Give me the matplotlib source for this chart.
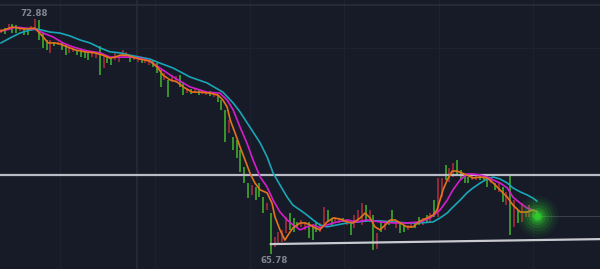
import numpy as np
import matplotlib
matplotlib.use("Agg")
import matplotlib.pyplot as plt

# ---- candle data (price) ----
highs = [72.59, 72.62, 72.74, 72.74, 72.71, 72.65, 72.62, 72.59, 72.68, 72.88,
         72.86, 72.47, 72.26, 72.26, 72.20, 72.20, 72.20, 72.11, 72.02, 72.02,
         71.96, 71.99, 71.93, 71.87, 71.93, 71.87, 72.08, 71.80, 71.77, 71.71,
         71.87, 71.77, 71.96, 71.90, 71.80, 71.74, 71.71, 71.71, 71.65, 71.65,
         71.65, 71.56, 71.35, 71.26, 71.05, 71.20, 71.17, 71.20, 70.99, 70.81,
         70.78, 70.78, 70.75, 70.75, 70.71, 70.71, 70.68, 70.59, 70.44, 70.14,
         69.84, 69.32, 69.23, 68.93, 68.41, 67.93, 67.87, 67.81, 67.93, 67.50,
         67.32, 67.02, 66.29, 66.45, 66.51, 66.90, 67.02, 66.87, 66.75, 66.81,
         66.75, 66.75, 66.66, 66.75, 66.72, 67.20, 67.11, 66.87, 66.90, 66.87,
         66.87, 66.81, 66.75, 66.96, 67.11, 67.32, 67.26, 67.11, 66.96, 66.41,
         66.75, 66.75, 66.81, 67.11, 66.81, 66.75, 66.66, 66.66, 66.75, 66.75,
         66.90, 66.87, 66.96, 67.02, 67.41, 68.08, 68.08, 68.47, 68.38, 68.53,
         68.63, 68.32, 68.14, 68.11, 68.23, 68.17, 68.17, 68.17, 68.11, 68.08,
         67.93, 67.93, 67.81, 67.66, 68.17, 67.41, 67.11, 67.32, 67.08, 67.26,
         67.05, 67.11]
lows = [72.47, 72.44, 72.56, 72.47, 72.47, 72.53, 72.41, 72.41, 72.53, 72.56,
        72.26, 72.02, 71.96, 71.87, 72.08, 72.11, 71.96, 71.80, 71.87, 71.90,
        71.80, 71.74, 71.71, 71.65, 71.74, 71.71, 71.20, 71.41, 71.56, 71.50,
        71.65, 71.59, 71.74, 71.74, 71.59, 71.65, 71.59, 71.56, 71.56, 71.50,
        71.44, 71.26, 70.84, 71.05, 70.53, 70.99, 70.99, 70.84, 70.59, 70.65,
        70.62, 70.65, 70.59, 70.62, 70.59, 70.56, 70.53, 70.38, 70.14, 69.17,
        69.44, 68.93, 68.69, 68.26, 67.93, 67.47, 67.57, 67.41, 67.50, 67.02,
        67.11, 65.78, 65.99, 66.08, 66.14, 66.41, 66.51, 66.45, 66.57, 66.60,
        66.51, 66.26, 66.20, 66.45, 66.45, 66.60, 66.75, 66.66, 66.75, 66.72,
        66.75, 66.66, 66.35, 66.57, 66.75, 66.66, 66.75, 66.81, 65.90, 65.93,
        66.45, 66.51, 66.66, 66.72, 66.57, 66.41, 66.45, 66.51, 66.57, 66.57,
        66.66, 66.66, 66.75, 66.75, 66.90, 66.90, 67.50, 68.02, 67.96, 68.11,
        68.17, 68.02, 67.93, 67.93, 68.02, 68.02, 68.02, 68.02, 67.81, 67.93,
        67.72, 67.66, 67.35, 67.26, 66.35, 66.60, 66.72, 66.75, 66.90, 66.90,
        66.90, 66.90]
# 1 = bullish (green), 0 = bearish (red)
up = [0, 1, 0, 1, 1, 0, 1, 1, 0, 0,
      1, 1, 1, 0, 1, 0, 1, 1, 0, 0,
      1, 1, 1, 1, 0, 0, 1, 0, 1, 1,
      0, 0, 0, 0, 1, 0, 0, 1, 0, 0,
      1, 1, 1, 0, 1, 0, 0, 1, 1, 0,
      1, 0, 1, 0, 0, 1, 0, 1, 1, 1,
      0, 1, 1, 1, 1, 1, 0, 1, 1, 1,
      0, 1, 0, 0, 0, 0, 1, 1, 1, 0,
      0, 1, 1, 1, 0, 0, 1, 1, 0, 0,
      1, 0, 1, 0, 0, 0, 1, 0, 1, 0,
      1, 0, 1, 1, 0, 1, 1, 0, 0, 1,
      1, 0, 1, 0, 1, 0, 0, 1, 0, 0,
      1, 1, 1, 1, 0, 0, 1, 1, 1, 0,
      1, 0, 1, 0, 1, 0, 1, 0, 0, 0,
      0, 0]

# ---- moving averages (bar index, price) ----
ma_fast_x = [0, 2.9, 6.3, 8.9, 11.1, 12.4, 14.2, 15.5, 16.8, 19.5, 22.1, 24.7, 26.8, 28.7, 30.0,
             31.3, 33.2, 34.7, 36.6, 39.2, 41.1, 42.6, 44.5, 46.3, 47.9, 50.3, 52.4, 55.0, 57.1,
             58.4, 59.5, 60.3, 61.6, 62.9, 64.2, 65.5, 66.8, 68.2, 70.0, 71.3, 72.1, 73.4, 74.7,
             75.5, 76.8, 78.7, 80.0, 81.3, 82.6, 83.9, 85.8, 87.4, 89.2, 91.1, 92.6, 94.5, 95.8,
             97.1, 98.4, 99.7, 101.1, 102.4, 103.7, 105.0, 106.8, 108.4, 110.3, 112.1, 113.7,
             114.7, 115.5, 116.3, 117.4, 118.7, 120.0, 121.3, 122.6, 124.2, 126.1, 127.9, 129.5,
             131.3, 133.2, 134.7, 136.6, 138.4, 140.0, 141.0]
ma_fast = [72.53, 72.65, 72.59, 72.62, 72.35, 72.17, 72.17, 72.14, 72.08, 71.96, 71.90, 71.87, 71.80,
           71.71, 71.74, 71.80, 71.80, 71.74, 71.68, 71.62, 71.44, 71.20, 71.05, 70.99, 70.84, 70.68,
           70.68, 70.65, 70.59, 70.44, 70.23, 69.84, 69.44, 69.02, 68.63, 68.23, 67.93, 67.72, 67.63,
           67.32, 66.90, 66.51, 66.20, 66.35, 66.57, 66.72, 66.72, 66.66, 66.57, 66.51, 66.75, 66.87,
           66.84, 66.75, 66.72, 66.87, 67.02, 66.87, 66.60, 66.51, 66.66, 66.81, 66.81, 66.72, 66.60,
           66.60, 66.78, 66.87, 66.96, 67.11, 67.41, 67.72, 68.02, 68.29, 68.29, 68.23, 68.17, 68.08,
           68.11, 68.08, 67.93, 67.72, 67.50, 67.26, 67.05, 67.05, 67.11, 67.05]

ma_mid_x = [0, 2.4, 3.7, 6.3, 8.9, 11.1, 13.7, 16.3, 18.9, 22.6, 26.1, 28.7, 31.3, 33.9, 36.6, 39.2,
            41.8, 45.3, 49.7, 54.2, 57.6, 59.5, 61.1, 62.9, 64.7, 66.3, 68.2, 70.0, 71.6, 73.4, 75.3,
            76.8, 78.7, 80.5, 82.1, 83.9, 85.8, 88.4, 91.1, 93.7, 96.3, 99.7, 103.2, 106.8, 110.3,
            112.9, 115.5, 117.4, 118.9, 120.8, 122.6, 124.2, 126.1, 127.9, 129.5, 131.3, 133.2,
            134.7, 136.6, 138.4, 140.0, 141.0]
ma_mid = [72.53, 72.59, 72.65, 72.62, 72.59, 72.47, 72.35, 72.17, 72.05, 71.93, 71.87, 71.74, 71.74,
          71.74, 71.71, 71.62, 71.41, 71.14, 70.84, 70.68, 70.65, 70.44, 70.14, 69.62, 69.14, 68.63,
          68.11, 67.81, 67.41, 67.05, 66.81, 66.66, 66.51, 66.60, 66.66, 66.57, 66.66, 66.75, 66.81,
          66.75, 66.81, 66.75, 66.72, 66.72, 66.75, 66.87, 67.11, 67.41, 67.72, 68.02, 68.20, 68.20,
          68.17, 68.11, 68.02, 67.93, 67.78, 67.50, 67.32, 67.17, 67.11, 67.05]

ma_slow_x = [0, 2.4, 5.0, 7.6, 9.5, 12.9, 15.5, 18.2, 20.8, 23.4, 26.1, 28.7, 31.3, 33.9, 36.6, 39.2,
             41.8, 45.3, 49.7, 54.2, 58.4, 61.1, 62.9, 65.5, 68.2, 70.0, 71.6, 73.4, 75.3, 76.8, 78.7,
             80.5, 82.1, 83.9, 85.8, 88.4, 91.1, 93.7, 96.3, 99.7, 103.2, 106.8, 110.3, 113.7, 115.5,
             117.4, 118.9, 120.8, 122.6, 124.2, 126.1, 127.9, 129.5, 131.3, 133.2, 134.7, 136.6,
             138.4, 140.0, 141.0]
ma_slow = [72.17, 72.32, 72.47, 72.56, 72.59, 72.50, 72.47, 72.38, 72.26, 72.17, 72.02, 71.90, 71.87,
           71.80, 71.74, 71.68, 71.56, 71.41, 71.14, 70.96, 70.68, 70.35, 70.08, 69.62, 69.14, 68.72,
           68.23, 67.87, 67.50, 67.26, 67.11, 66.96, 66.81, 66.66, 66.60, 66.66, 66.72, 66.75, 66.78,
           66.78, 66.75, 66.72, 66.72, 66.75, 66.87, 67.02, 67.20, 67.41, 67.63, 67.78, 67.93, 68.05,
           68.11, 68.05, 67.93, 67.78, 67.66, 67.57, 67.47, 67.38]

# ---- annotations ----
resistance = 68.17
support_x = [71, 157.6]
support_y = [66.08, 66.23]
hi_label, hi_idx = "72.88", 9
lo_label, lo_idx = "65.78", 71
last_price = 66.93

BG = "#171b28"
fig = plt.figure(figsize=(6.0, 2.69), dpi=100, facecolor=BG)
ax = fig.add_axes([0, 0, 1, 1], facecolor=BG)
XMIN, XMAX = -0.26, 157.6
YMIN, YMAX = 65.325, 73.47
ax.set_xlim(XMIN, XMAX)
ax.set_ylim(YMIN, YMAX)
ax.axis("off")

# grid
for gx in [15.5, 40.5, 65.5, 90.3, 115.3, 140.0]:
    ax.axvline(gx, color="#1d2130", lw=0.8, zorder=0)
ax.axvline(35.8, color="#272b38", lw=1.2, zorder=0)
ax.axhline(73.31, color="#2a2e3b", lw=1.2, zorder=0)
ax.axhline(72.03, color="#1d2130", lw=0.8, zorder=0)

# candles
n = len(highs)
xs = np.arange(n)
cols = ["#3c9f2c" if u else "#9a2c38" for u in up]
ax.vlines(xs, lows, highs, colors=cols, linewidth=1.3, zorder=2)

# levels
ax.axhline(resistance, color="#b9bcc4", lw=1.6, zorder=3)
ax.plot(support_x, support_y, color="#c8cad0", lw=1.6, zorder=3)
ax.plot([n - 1, XMAX], [last_price, last_price], color="#3a3e4a", lw=0.8, zorder=1)

# moving averages
ax.plot(ma_slow_x, ma_slow, color="#1aa6b7", lw=1.2, zorder=4)
ax.plot(ma_mid_x, ma_mid, color="#d61ccc", lw=1.2, zorder=5)
ax.plot(ma_fast_x, ma_fast, color="#e3741b", lw=1.2, zorder=6)

# glow at last price
for s, a in [(900, 0.06), (650, 0.08), (450, 0.12), (280, 0.16), (150, 0.25), (70, 0.4), (28, 0.75)]:
    ax.scatter([n - 1], [last_price], s=s, color="#2fd42f", alpha=a, lw=0, zorder=7)

# labels
ax.text(hi_idx - 0.2, highs[hi_idx] + 0.19, hi_label, color="#80848f", fontsize=6.2,
        ha="center", va="center", fontweight="bold", zorder=8)
ax.text(lo_idx + 0.8, lows[lo_idx] - 0.19, lo_label, color="#80848f", fontsize=6.2,
        ha="center", va="center", fontweight="bold", zorder=8)

fig.savefig("out.png", dpi=100, facecolor=BG)
